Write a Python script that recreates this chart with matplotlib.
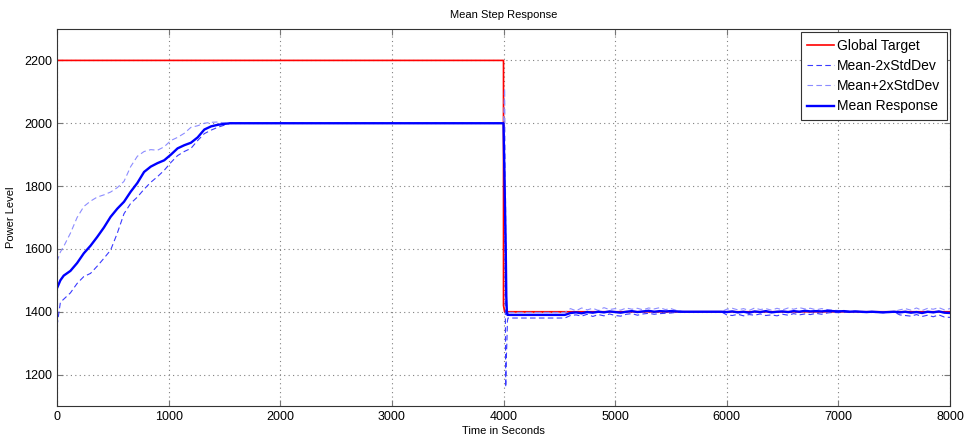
import matplotlib
matplotlib.use("Agg")
import matplotlib.pyplot as plt
import numpy as np

# target power level
target_t = [0, 4000, 4000, 4010, 8000]
target_v = [2200, 2200, 1420, 1400, 1400]

# rising part (0 - 1550 s)
rise_t = [0, 30, 60, 120, 180, 240, 300, 360, 420, 480, 540, 600, 660, 720,
          780, 840, 900, 960, 1020, 1080, 1140, 1200, 1260, 1320, 1380, 1440, 1500, 1550]
rise_mean = [1475, 1500, 1515, 1530, 1555, 1586, 1610, 1638, 1668, 1702, 1728, 1750, 1782, 1810,
             1845, 1862, 1873, 1882, 1900, 1920, 1930, 1938, 1955, 1980, 1990, 1995, 1998, 2000]
rise_upper = [1560, 1590, 1608, 1650, 1700, 1735, 1752, 1765, 1772, 1781, 1795, 1815, 1862, 1895,
              1910, 1916, 1914, 1925, 1945, 1955, 1968, 1987, 1992, 2000, 2003, 2004, 2001, 2000]
rise_lower = [1355, 1430, 1440, 1460, 1490, 1512, 1522, 1545, 1570, 1596, 1650, 1712, 1745, 1765,
              1790, 1812, 1830, 1850, 1875, 1897, 1910, 1920, 1945, 1967, 1978, 1987, 1994, 2000]

# hold at 2000 and the step down at 4000 s
step_t = [4000, 4005, 4010, 4015, 4020, 4025, 4030, 4035, 4040, 4550]
step_mean = [2000, 1900, 1800, 1700, 1600, 1450, 1400, 1390, 1390, 1390]
step_upper = [2000, 2060, 2110, 1900, 1700, 1420, 1400, 1398, 1398, 1398]
step_lower = [2000, 1950, 1850, 1500, 1160, 1250, 1300, 1370, 1380, 1380]

# settled part (4550 - 8000 s)
tail_t = [4550, 4600, 4650, 4700, 4750, 4800, 4850, 4900, 4950, 5000, 5050, 5100, 5150, 5200,
          5250, 5300, 5350, 5400, 5450, 5500, 5550, 5600, 5650, 5700, 5750, 5800, 5850, 5900,
          5950, 6000, 6050, 6100, 6150, 6200, 6250, 6300, 6350, 6400, 6450, 6500, 6550, 6600,
          6650, 6700, 6750, 6800, 6850, 6900, 6950, 7000, 7050, 7100, 7150, 7200, 7250, 7300,
          7350, 7400, 7450, 7500, 7550, 7600, 7650, 7700, 7750, 7800, 7850, 7900, 7950, 8000]
tail_mean = [1392, 1396, 1398, 1395, 1399, 1397, 1400, 1398, 1401, 1399, 1397, 1400, 1402, 1399,
             1401, 1403, 1400, 1402, 1401, 1402, 1401, 1400, 1400, 1400, 1400, 1400, 1400, 1400,
             1400, 1399, 1401, 1398, 1400, 1397, 1401, 1399, 1402, 1398, 1400, 1401, 1399, 1402,
             1400, 1403, 1401, 1402, 1401, 1403, 1402, 1401, 1402, 1400, 1401, 1400, 1399, 1400,
             1399, 1398, 1399, 1400, 1398, 1400, 1397, 1399, 1396, 1400, 1398, 1401, 1397, 1396]
tail_upper = [1398, 1410, 1403, 1412, 1406, 1411, 1404, 1413, 1407, 1410, 1405, 1412, 1408, 1411,
              1406, 1412, 1409, 1413, 1407, 1410, 1404, 1401, 1400, 1400, 1400, 1400, 1400, 1400,
              1400, 1408, 1411, 1406, 1410, 1404, 1412, 1407, 1410, 1405, 1411, 1406, 1412, 1408,
              1413, 1409, 1411, 1406, 1410, 1407, 1405, 1404, 1403, 1402, 1402, 1401, 1400, 1401,
              1400, 1399, 1400, 1401, 1406, 1410, 1405, 1412, 1404, 1411, 1408, 1413, 1406, 1410]
tail_lower = [1382, 1388, 1390, 1386, 1392, 1385, 1391, 1387, 1393, 1388, 1386, 1392, 1394, 1389,
              1393, 1395, 1392, 1394, 1395, 1396, 1398, 1399, 1400, 1400, 1400, 1400, 1400, 1400,
              1400, 1390, 1388, 1392, 1387, 1391, 1389, 1393, 1388, 1390, 1387, 1392, 1389, 1394,
              1390, 1393, 1391, 1395, 1392, 1396, 1398, 1397, 1399, 1398, 1400, 1399, 1398, 1399,
              1398, 1397, 1398, 1399, 1390, 1388, 1386, 1391, 1385, 1389, 1384, 1390, 1383, 1382]

# whole series
t_all = rise_t + step_t + tail_t[1:]
mean_all = rise_mean + step_mean + tail_mean[1:]
upper_all = rise_upper + step_upper + tail_upper[1:]
lower_all = rise_lower + step_lower + tail_lower[1:]

plt.rcParams['font.family'] = ['Liberation Sans', 'DejaVu Sans']

fig = plt.figure(figsize=(9.68, 4.44), dpi=100)
ax = fig.add_axes([0.0589, 0.0856, 0.9225, 0.8491])

ax.plot(target_t, target_v, color='#ff0000', lw=1.2, label='Global Target')
ax.plot(t_all, lower_all, color='#3a3aff', lw=0.8, ls=(0, (5, 3)), label='Mean-2xStdDev')
ax.plot(t_all, upper_all, color='#8c8cff', lw=0.8, ls=(0, (5, 3)), label='Mean+2xStdDev')
ax.plot(t_all, mean_all, color='#0000ff', lw=1.7, label='Mean Response')

ax.set_xlim(0, 8000)
ax.set_ylim(1100, 2300)
ax.set_xticks(np.arange(0, 8001, 1000))
ax.set_yticks(np.arange(1200, 2201, 200))
ax.grid(True, color='#808080', ls=(0, (1, 3)), lw=0.8)
ax.tick_params(direction='in', top=True, right=True, labelsize=9, length=4, color='#777777')
for s in ax.spines.values():
    s.set_color('#333333')
    s.set_linewidth(0.8)

ax.set_title('Mean Step Response', fontsize=8, pad=8)
ax.set_xlabel('Time in Seconds', fontsize=8, labelpad=2)
ax.set_ylabel('Power Level', fontsize=8, labelpad=6)

leg = ax.legend(loc='upper right', fontsize=10, fancybox=False, framealpha=1,
                edgecolor='#333333', handlelength=1.9, handletextpad=0.25,
                borderpad=0.45, labelspacing=0.45, borderaxespad=0.25)
leg.get_frame().set_linewidth(0.8)

fig.savefig('out.png', dpi=100)
